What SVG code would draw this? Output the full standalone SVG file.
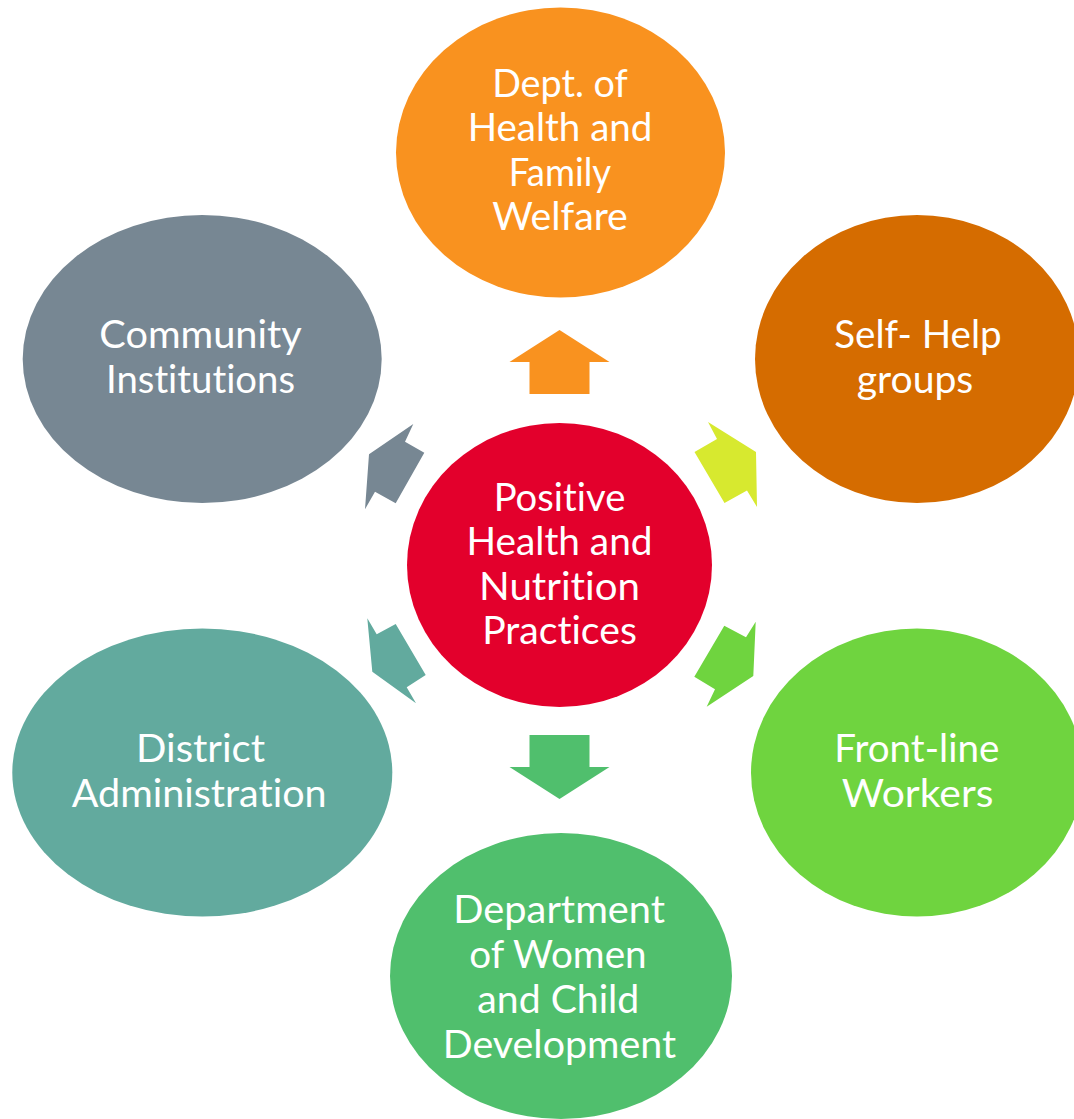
<svg xmlns="http://www.w3.org/2000/svg" width="1074" height="1119" viewBox="0 0 1074 1119">
  <style>
    .lbl { font-family: Lato, "Open Sans", "Liberation Sans", sans-serif; font-size: 39px; fill: #ffffff; text-anchor: middle; font-variant-ligatures: none; font-feature-settings: "liga" 0, "clig" 0; }
  </style>
  <rect width="1074" height="1119" fill="#ffffff"/>

  <!-- arrows radiating from the hub to each partner -->
  <g id="connectors">
    <polygon fill="#F9921F" points="559.5,330 609.5,362 589.5,362 589.5,394 529.5,394 529.5,362 509.5,362"/>
    <polygon fill="#D7E92F" points="708,422 717,439 694.5,452 724.5,503 747,490.5 757,507 756,452"/>
    <polygon fill="#6FD43F" points="755.7,621.7 746,637.3 724.3,625.7 694.3,676.7 715,689.3 706.7,706.7 753.3,676"/>
    <polygon fill="#50BF6D" points="529.5,735 589.5,735 589.5,767 609.5,767 559.5,799 509.5,767 529.5,767"/>
    <polygon fill="#62AA9E" points="367.3,618.3 376.7,634.3 395.7,624 425.7,675 406.7,687.3 416,703.3 372.3,671.7"/>
    <polygon fill="#778793" points="413.3,424 405,441.7 424.3,452.7 395.7,503.3 375,491.7 365,509.3 369,454.3"/>
  </g>

  <g id="hub">
    <ellipse cx="559.5" cy="565" rx="152.5" ry="142" fill="#E3002C"/>
    <text class="lbl" x="559.5" y="510.7" textLength="131.7" lengthAdjust="spacingAndGlyphs">Positive</text>
    <text class="lbl" x="559.5" y="555.1" textLength="186" lengthAdjust="spacingAndGlyphs">Health and</text>
    <text class="lbl" x="559.5" y="599.5" textLength="161" lengthAdjust="spacingAndGlyphs">Nutrition</text>
    <text class="lbl" x="559.5" y="644" textLength="154.7" lengthAdjust="spacingAndGlyphs">Practices</text>
  </g>

  <g id="health-dept">
    <ellipse cx="560.5" cy="152.5" rx="164.5" ry="145" fill="#F9921F"/>
    <text class="lbl" x="560" y="96.7" textLength="135.7" lengthAdjust="spacingAndGlyphs">Dept. of</text>
    <text class="lbl" x="560" y="141.1" textLength="184.7" lengthAdjust="spacingAndGlyphs">Health and</text>
    <text class="lbl" x="560" y="185.5" textLength="102.3" lengthAdjust="spacingAndGlyphs">Family</text>
    <text class="lbl" x="560" y="230" textLength="135.7" lengthAdjust="spacingAndGlyphs">Welfare</text>
  </g>

  <g id="self-help">
    <ellipse cx="917" cy="359" rx="162" ry="144" fill="#D56C00"/>
    <text class="lbl" x="918" y="348.3" textLength="167.4" lengthAdjust="spacingAndGlyphs">Self- Help</text>
    <text class="lbl" x="915" y="393.3" textLength="116.6" lengthAdjust="spacingAndGlyphs">groups</text>
  </g>

  <g id="front-line">
    <ellipse cx="917" cy="772.5" rx="166" ry="144" fill="#6FD43F"/>
    <text class="lbl" x="916.8" y="761.7" textLength="165" lengthAdjust="spacingAndGlyphs">Front-line</text>
    <text class="lbl" x="917.5" y="807.3" textLength="151.7" lengthAdjust="spacingAndGlyphs">Workers</text>
  </g>

  <g id="wcd-dept">
    <ellipse cx="561" cy="976" rx="171" ry="143" fill="#50BF6D"/>
    <text class="lbl" x="559.2" y="923.3" textLength="211.7" lengthAdjust="spacingAndGlyphs">Department</text>
    <text class="lbl" x="558" y="968.3" textLength="177.3" lengthAdjust="spacingAndGlyphs">of Women</text>
    <text class="lbl" x="558.3" y="1013" textLength="162" lengthAdjust="spacingAndGlyphs">and Child</text>
    <text class="lbl" x="559.4" y="1058" textLength="233.3" lengthAdjust="spacingAndGlyphs">Development</text>
  </g>

  <g id="district">
    <ellipse cx="202.3" cy="772.5" rx="190" ry="144" fill="#62AA9E"/>
    <text class="lbl" x="200.5" y="761.7" textLength="129" lengthAdjust="spacingAndGlyphs">District</text>
    <text class="lbl" x="199.2" y="807.3" textLength="255" lengthAdjust="spacingAndGlyphs">Administration</text>
  </g>

  <g id="community">
    <ellipse cx="202.2" cy="359" rx="179.5" ry="144" fill="#778793"/>
    <text class="lbl" x="200.5" y="348.3" textLength="202.3" lengthAdjust="spacingAndGlyphs">Community</text>
    <text class="lbl" x="200.5" y="393.3" textLength="189" lengthAdjust="spacingAndGlyphs">Institutions</text>
  </g>
</svg>
